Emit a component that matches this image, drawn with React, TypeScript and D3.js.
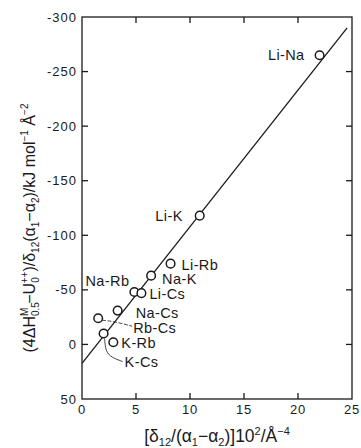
import React from 'react';
import * as d3 from 'd3';

// pairs, x = [d12/(a1-a2)]10^2, y = (4dH - U)/d12(a1-a2)
const pairs = ['Li-Na', 'Li-K', 'Li-Rb', 'Na-K', 'Na-Rb', 'Li-Cs', 'Na-Cs', 'Rb-Cs', 'K-Cs', 'K-Rb'];
const xVals = [22.0, 10.9, 8.2, 6.4, 4.85, 5.5, 3.3, 1.5, 2.0, 2.9];
const yVals = [-265, -118, -74, -63, -48, -47, -31, -24, -10, -2];
const xTicks = [0, 5, 10, 15, 20, 25];
const yTicks = [-300, -250, -200, -150, -100, -50, 0, 50];
// fitted line y = a + b x
const fitA = 17.3;
const fitB = -12.52;
const fitRange = [0, 24.55];

// label placement relative to the circle: [dx, dy, anchor]
const labelPos: [number, number, string][] = [
  [-15, 5, 'end'],
  [-17, 5, 'end'],
  [11, 6, 'start'],
  [11, 8, 'start'],
  [-5, -6, 'end'],
  [8, 6, 'start'],
  [18, 7, 'start'],
  [35, 15, 'start'],
  [21, 33, 'start'],
  [8, 6, 'start'],
];

const W = 361;
const H = 448;
const margin = { left: 82, right: 9, top: 17, bottom: 49 };

const App = () => {
  const x = d3.scaleLinear().domain([0, 25]).range([margin.left, W - margin.right]);
  const y = d3.scaleLinear().domain([-300, 50]).range([margin.top, H - margin.bottom]);
  const x0 = margin.left, x1 = W - margin.right, y0 = margin.top, y1 = H - margin.bottom;
  const ink = '#1a1a1a';
  const tick = 6;

  const line = d3.line<number>().x(d => x(d)).y(d => y(fitA + fitB * d));

  const rbCs = pairs.indexOf('Rb-Cs');
  const kCs = pairs.indexOf('K-Cs');
  const curve = d3.line<[number, number]>().curve(d3.curveBasis);

  return (
    <svg width={W} height={H} style={{ position: 'absolute', left: 0, top: 0, background: '#fff' }}
      fontFamily="'Liberation Sans', Arial, sans-serif">
      <rect x={x0} y={y0} width={x1 - x0} height={y1 - y0} fill="none" stroke={ink} strokeWidth={1.3} />
      {xTicks.slice(1, -1).map(t => (
        <g key={'xt' + t} stroke={ink} strokeWidth={1.3}>
          <line x1={x(t)} x2={x(t)} y1={y0} y2={y0 + tick} />
          <line x1={x(t)} x2={x(t)} y1={y1} y2={y1 - tick} />
        </g>
      ))}
      {yTicks.slice(1, -1).map(t => (
        <g key={'yt' + t} stroke={ink} strokeWidth={1.3}>
          <line x1={x0} x2={x0 + tick} y1={y(t)} y2={y(t)} />
          <line x1={x1} x2={x1 - tick} y1={y(t)} y2={y(t)} />
        </g>
      ))}
      {xTicks.map(t => (
        <text key={'xl' + t} x={x(t)} y={y1 + 15} textAnchor="middle" fontSize={13} letterSpacing={0.8} fill={ink}>{t}</text>
      ))}
      {yTicks.map(t => (
        <text key={'yl' + t} x={x0 - 5} y={y(t) + 4.5} textAnchor="end" fontSize={13} letterSpacing={1} fill={ink}>{t}</text>
      ))}

      <path d={line(fitRange) || ''} fill="none" stroke={ink} strokeWidth={1.3} />

      <path d={curve([[x(xVals[rbCs]) + 4, y(yVals[rbCs]) + 2], [x(xVals[rbCs]) + 15, y(yVals[rbCs]) + 3], [x(xVals[rbCs]) + 34, y(yVals[rbCs]) + 8]]) || ''}
        fill="none" stroke={ink} strokeWidth={0.8} strokeDasharray="4 1.5" />
      <path d={curve([[x(xVals[kCs]) + 1, y(yVals[kCs]) + 5], [x(xVals[kCs]) + 2, y(yVals[kCs]) + 18], [x(xVals[kCs]) + 8, y(yVals[kCs]) + 24], [x(xVals[kCs]) + 19, y(yVals[kCs]) + 28]]) || ''}
        fill="none" stroke={ink} strokeWidth={0.8} />

      {pairs.map((p, i) => (
        <g key={p}>
          <circle cx={x(xVals[i])} cy={y(yVals[i])} r={4.3} fill="#fff" stroke={ink} strokeWidth={1.5} />
          <text x={x(xVals[i]) + labelPos[i][0]} y={y(yVals[i]) + labelPos[i][1]} textAnchor={labelPos[i][2] as any}
            fontSize={14.5} letterSpacing={0.4} fill={ink}>{p}</text>
        </g>
      ))}

      <text x={(x0 + x1) / 2} y={442} textAnchor="middle" fontSize={17.5} fill={ink}>
        [δ<tspan fontSize={11} dy={4}>12</tspan>
        <tspan dy={-4}>/(α</tspan><tspan fontSize={11} dy={4}>1</tspan>
        <tspan dy={-4}>−α</tspan><tspan fontSize={11} dy={4}>2</tspan>
        <tspan dy={-4}>)]10</tspan><tspan fontSize={11} dy={-7}>2</tspan>
        <tspan dy={7}>/Å</tspan><tspan fontSize={11} dy={-7}>−4</tspan>
      </text>

      <text transform={`translate(35,${(y0 + y1) / 2 + 20}) rotate(-90)`} textAnchor="middle" fontSize={16} fill={ink}>
        (4ΔH<tspan fontSize={10} dy={4}>0.5</tspan><tspan fontSize={10} dx={-14} dy={-11}>M</tspan>
        <tspan dx={4} dy={7}>−U</tspan><tspan fontSize={10} dy={4}>0</tspan><tspan fontSize={10} dx={-6} dy={-11}>++</tspan>
        <tspan dy={7}>)/δ</tspan><tspan fontSize={10} dy={4}>12</tspan>
        <tspan dy={-4}>(α</tspan><tspan fontSize={10} dy={4}>1</tspan>
        <tspan dy={-4}>−α</tspan><tspan fontSize={10} dy={4}>2</tspan>
        <tspan dy={-4}>)/kJ mol</tspan><tspan fontSize={10} dy={-7}>−1</tspan>
        <tspan dy={7}> Å</tspan><tspan fontSize={10} dy={-7}>−2</tspan>
      </text>
    </svg>
  );
};

export default App;
